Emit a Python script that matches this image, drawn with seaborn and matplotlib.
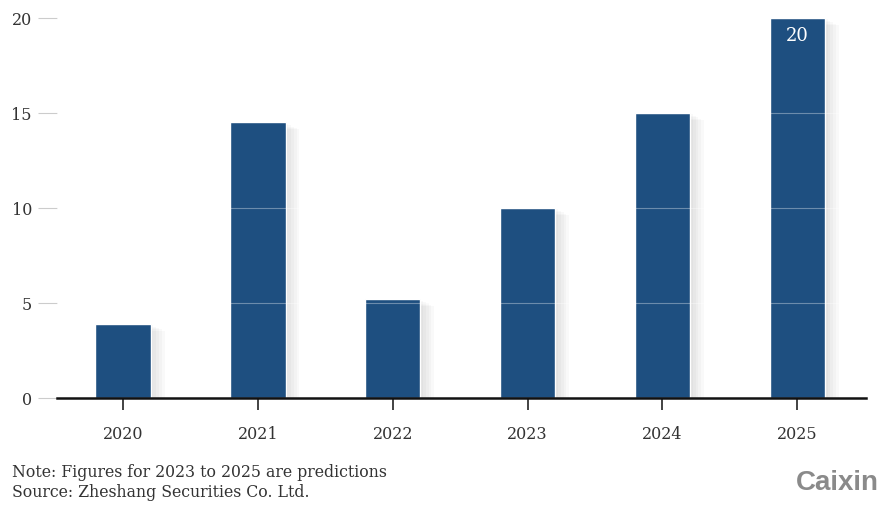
import seaborn as sns
import pandas as pd
import matplotlib.pyplot as plt
import matplotlib.patheffects as pe

years = ['2020', '2021', '2022', '2023', '2024', '2025']
values = [3.9, 14.5, 5.2, 10, 15, 20]
yticks = [0, 5, 10, 15, 20]

df = pd.DataFrame({'year': years, 'value': values})

sns.set_style('white')
plt.rcParams['font.family'] = ['DejaVu Serif', 'DejaVu Sans']

fig = plt.figure(figsize=(8.82, 5.06), dpi=100)
ax = fig.add_axes([0.0646, 0.2115, 0.9173, 0.751])

bar_color = '#1e4f80'
sns.barplot(data=df, x='year', y='value', color=bar_color, width=0.41,
            saturation=1, ax=ax, zorder=2)
# soft blurred-looking shadow from a few faint offset copies
shadows = [pe.SimplePatchShadow(offset=(o, -o * 0.5), shadow_rgbFace='#000000', alpha=0.025)
           for o in (2, 4, 6, 8, 10)]
for p in ax.patches:
    p.set_path_effects(shadows + [pe.Normal()])

ax.set_ylim(0, 20)
ax.set_xlim(-0.49, 5.51)
ax.set_yticks(yticks)
ax.set_yticklabels([str(t) for t in yticks])
for t in yticks[1:]:
    ax.axhline(t, color='white', lw=0.8, alpha=0.35, zorder=3)

ax.set_xlabel('')
ax.set_ylabel('')
for s in ['top', 'right', 'left']:
    ax.spines[s].set_visible(False)
ax.spines['bottom'].set_color('#111111')
ax.spines['bottom'].set_linewidth(1.8)
ax.spines['bottom'].set_zorder(4)

ax.tick_params(axis='y', left=True, length=14, width=0.8, color='#cccccc', pad=4,
               labelsize=11.5, labelcolor='#333333', direction='out')
ax.tick_params(axis='x', bottom=True, length=8.5, width=1.2, color='#222222', pad=11,
               labelsize=11.5, labelcolor='#333333')

ax.text(5, 19.1, '20', color='white', ha='center', va='center', fontsize=13, zorder=5)

fig.text(0.014, 0.067, 'Note: Figures for 2023 to 2025 are predictions', fontsize=11.3,
         color='#333333', va='center')
fig.text(0.014, 0.027, 'Source: Zheshang Securities Co. Ltd.', fontsize=11.3,
         color='#333333', va='center')
fig.text(0.997, 0.045, 'Caixin', fontsize=20, fontweight='bold', color='#8a8a8a',
         ha='right', va='center', family=['Liberation Sans', 'DejaVu Sans'])

fig.savefig('out.png', dpi=100)
